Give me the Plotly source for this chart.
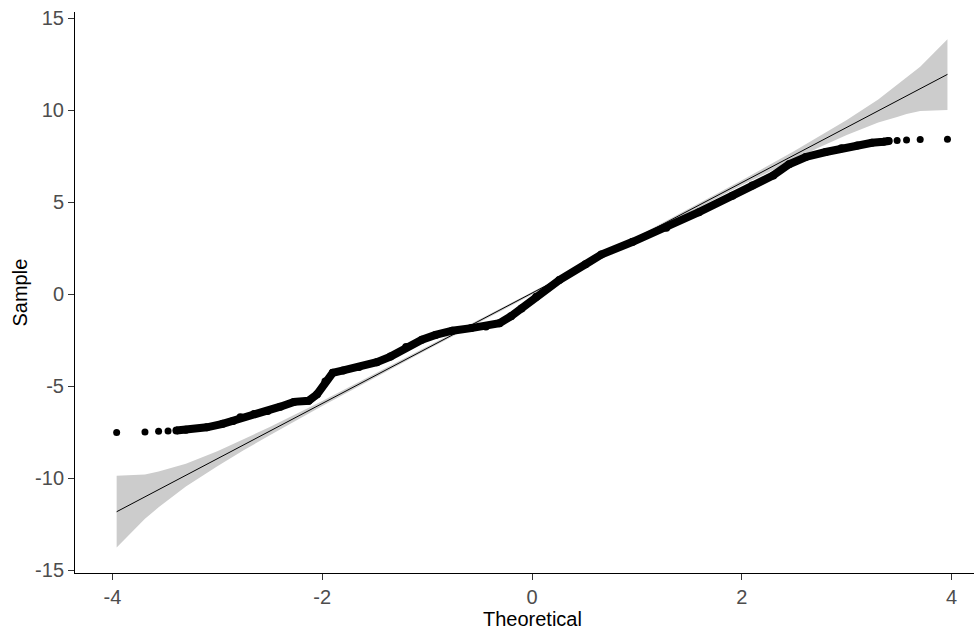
import plotly.graph_objects as go

# ---- data ----
# sparse tail points (individual markers)
tail_left_x = [-3.96, -3.69, -3.56, -3.47, -3.39]
tail_left_y = [-7.52, -7.50, -7.46, -7.44, -7.42]
tail_right_x = [3.40, 3.48, 3.57, 3.70, 3.96]
tail_right_y = [8.32, 8.34, 8.37, 8.40, 8.41]

# dense body of the sample quantiles (read along the band centre)
body_x = [-3.39, -3.30, -3.10, -2.95, -2.85, -2.78, -2.65, -2.52, -2.40, -2.27,
          -2.13, -2.05, -1.97, -1.90, -1.80, -1.65, -1.48, -1.35, -1.20, -1.05,
          -0.92, -0.76, -0.58, -0.44, -0.31, -0.20, -0.10, 0.04, 0.26, 0.51,
          0.66, 0.96, 1.28, 1.59, 1.91, 2.10, 2.30, 2.45, 2.61, 2.80,
          2.95, 3.10, 3.24, 3.35, 3.40]
body_y = [-7.42, -7.38, -7.24, -7.05, -6.90, -6.70, -6.52, -6.36, -6.12, -5.86,
          -5.80, -5.45, -4.75, -4.28, -4.15, -3.97, -3.70, -3.40, -2.88, -2.48,
          -2.22, -1.99, -1.85, -1.76, -1.58, -1.20, -0.78, -0.15, 0.76, 1.62,
          2.15, 2.84, 3.60, 4.45, 5.35, 5.90, 6.45, 7.05, 7.45, 7.72,
          7.92, 8.08, 8.22, 8.28, 8.32]

# reference line end points
line_x = [-3.96, 3.96]
line_y = [-11.83, 11.94]

# confidence band
band_x = [-3.96, -3.69, -3.56, -3.47, -3.30, -3.00, -2.75, -2.50, -2.00, -1.00,
          0.00, 1.00, 2.00, 2.50, 2.75, 3.00, 3.30, 3.48, 3.57, 3.70, 3.96]
band_lower = [-13.78, -12.21, -11.59, -11.20, -10.46, -9.36, -8.49, -7.67, -6.09, -3.03,
              -0.01, 2.97, 5.91, 7.33, 8.00, 8.64, 9.33, 9.63, 9.78, 9.95, 10.00]
band_upper = [-9.88, -9.81, -9.65, -9.50, -9.22, -8.54, -7.89, -7.23, -5.81, -2.87,
              0.11, 3.13, 6.19, 7.77, 8.60, 9.46, 10.57, 11.35, 11.74, 12.35, 13.85]

x_ticks = [-4, -2, 0, 2, 4]
x_tick_labels = ["-4", "-2", "0", "2", "4"]
y_ticks = [-15, -10, -5, 0, 5, 10, 15]
y_tick_labels = ["-15", "-10", "-5", "0", "5", "10", "15"]

FONT = "Liberation Sans, Arial, sans-serif"

fig = go.Figure()

# band
fig.add_trace(go.Scatter(x=band_x, y=band_lower, mode="lines",
                         line=dict(width=0, color="rgba(0,0,0,0)"),
                         showlegend=False, hoverinfo="skip"))
fig.add_trace(go.Scatter(x=band_x, y=band_upper, mode="lines",
                         line=dict(width=0, color="rgba(0,0,0,0)"),
                         fill="tonexty", fillcolor="rgb(204,204,204)",
                         showlegend=False, hoverinfo="skip"))

# dense body of points
fig.add_trace(go.Scatter(x=body_x, y=body_y, mode="lines+markers",
                         line=dict(color="black", width=8),
                         marker=dict(color="black", size=8),
                         showlegend=False))
# tails
fig.add_trace(go.Scatter(x=tail_left_x + tail_right_x, y=tail_left_y + tail_right_y,
                         mode="markers", marker=dict(color="black", size=7),
                         showlegend=False))

# reference line
fig.add_trace(go.Scatter(x=line_x, y=line_y, mode="lines",
                         line=dict(color="black", width=1),
                         showlegend=False))

axis_common = dict(showgrid=False, zeroline=False, showline=True,
                   linecolor="black", linewidth=1,
                   ticks="outside", ticklen=6, tickwidth=1, tickcolor="#333333",
                   tickfont=dict(family=FONT, size=20, color="#4D4D4D"))

fig.update_xaxes(range=[-4.357, 4.213], tickvals=x_ticks, ticktext=x_tick_labels,
                 **axis_common)
fig.update_yaxes(range=[-15.16, 15.33], tickvals=y_ticks, ticktext=y_tick_labels,
                 **axis_common)

fig.add_annotation(text="Theoretical", xref="x", x=0, yref="paper", y=0,
                   xanchor="center", yanchor="middle", yshift=-46, showarrow=False,
                   font=dict(family=FONT, size=20, color="black"))
fig.add_annotation(text="Sample", xref="paper", x=0, yref="paper", y=0.5,
                   xanchor="center", yanchor="middle", xshift=-56, textangle=-90,
                   showarrow=False, font=dict(family=FONT, size=20, color="black"))

fig.update_layout(width=974, height=631,
                  margin=dict(l=75, r=0, t=12, b=58),
                  plot_bgcolor="white", paper_bgcolor="white")

fig.write_html("out.html")
